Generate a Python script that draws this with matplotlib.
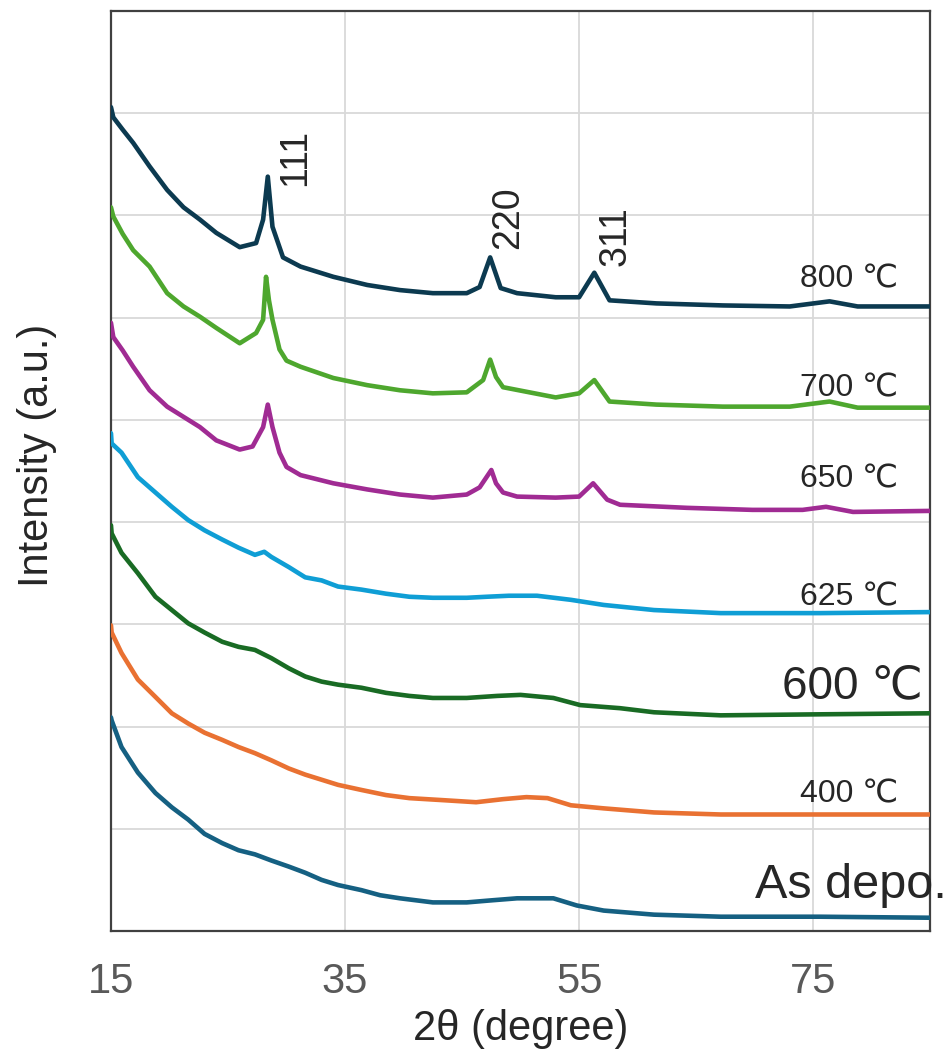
import matplotlib
matplotlib.use("Agg")
import matplotlib.pyplot as plt

plt.rcParams["font.family"] = ["Liberation Sans", "DejaVu Sans"]

# 2theta (deg) / intensity (a.u., stacked)
x_asdep = [15.0, 15.06, 15.9, 17.3, 18.8, 20.2, 21.6, 23.0, 24.5, 25.9, 27.3, 28.7, 30.2,
           31.6, 33.0, 34.4, 36.4, 38.0, 39.7, 42.5, 45.4, 47.5, 49.7, 52.8, 54.8, 57.1,
           61.4, 67.1, 75.6, 85.0]
y_asdep = [2.09, 2.06, 1.80, 1.55, 1.35, 1.21, 1.09, 0.95, 0.86, 0.79, 0.75, 0.69, 0.63,
           0.57, 0.50, 0.45, 0.40, 0.35, 0.32, 0.28, 0.28, 0.30, 0.32, 0.32, 0.25, 0.20,
           0.16, 0.14, 0.14, 0.13]

x_400 = [15.0, 15.06, 15.9, 17.3, 18.8, 20.2, 21.6, 23.0, 24.5, 25.9, 27.3, 28.7, 30.2,
         31.6, 33.0, 34.4, 36.4, 38.5, 40.5, 43.4, 46.2, 48.5, 50.5, 52.3, 54.3, 57.1,
         61.4, 67.1, 75.6, 85.0]
y_400 = [2.99, 2.92, 2.72, 2.46, 2.29, 2.13, 2.03, 1.94, 1.87, 1.80, 1.74, 1.67, 1.59,
         1.53, 1.48, 1.43, 1.38, 1.33, 1.30, 1.28, 1.26, 1.29, 1.31, 1.30, 1.23, 1.20,
         1.16, 1.14, 1.14, 1.14]

x_600 = [15.0, 15.06, 15.9, 17.3, 18.8, 20.2, 21.6, 23.0, 24.5, 25.9, 27.3, 28.7, 30.2,
         31.6, 33.0, 34.4, 36.4, 38.5, 40.5, 42.5, 45.4, 48.0, 50.0, 52.8, 55.1, 58.5,
         61.4, 67.1, 75.6, 85.0]
y_600 = [3.97, 3.89, 3.70, 3.50, 3.27, 3.14, 3.01, 2.92, 2.83, 2.78, 2.75, 2.67, 2.57,
         2.49, 2.44, 2.41, 2.38, 2.33, 2.30, 2.28, 2.28, 2.30, 2.31, 2.28, 2.21, 2.18,
         2.14, 2.11, 2.12, 2.13]

x_625 = [15.0, 15.06, 15.9, 17.3, 18.8, 20.2, 21.6, 23.0, 24.5, 25.9, 27.3, 28.1, 28.7,
         30.2, 31.6, 33.0, 34.4, 36.4, 38.5, 40.5, 42.5, 45.4, 47.1, 49.0, 51.4, 54.3,
         57.1, 61.4, 67.1, 75.6, 85.0]
y_625 = [4.87, 4.77, 4.68, 4.44, 4.29, 4.15, 4.02, 3.92, 3.83, 3.75, 3.68, 3.71, 3.66,
         3.56, 3.46, 3.43, 3.37, 3.34, 3.30, 3.27, 3.26, 3.26, 3.27, 3.28, 3.28, 3.24,
         3.19, 3.14, 3.11, 3.11, 3.12]

x_650 = [15.0, 15.2, 16.0, 16.9, 18.3, 19.8, 21.2, 22.6, 24.0, 26.0, 27.1, 28.0, 28.4,
         28.8, 29.4, 30.0, 31.2, 34.0, 36.9, 39.7, 42.5, 45.4, 46.5, 47.5, 47.9, 48.5,
         49.7, 53.0, 55.0, 56.2, 57.4, 58.5, 64.2, 69.8, 74.1, 76.1, 78.4, 85.0]
y_650 = [5.95, 5.81, 5.68, 5.52, 5.29, 5.13, 5.03, 4.93, 4.80, 4.71, 4.74, 4.93, 5.15,
         4.93, 4.68, 4.54, 4.46, 4.38, 4.32, 4.27, 4.24, 4.27, 4.34, 4.51, 4.38, 4.29,
         4.25, 4.24, 4.25, 4.38, 4.22, 4.17, 4.14, 4.12, 4.12, 4.15, 4.10, 4.11]

x_700 = [15.0, 15.2, 16.0, 16.9, 18.3, 19.8, 21.2, 22.6, 24.0, 26.0, 27.4, 28.0, 28.25,
         28.5, 28.8, 29.4, 30.0, 31.2, 34.0, 36.9, 39.7, 42.5, 45.4, 46.8, 47.4, 47.9,
         48.5, 53.0, 55.0, 56.3, 57.6, 61.6, 67.3, 73.0, 76.4, 78.8, 85.0]
y_700 = [7.08, 6.99, 6.82, 6.66, 6.50, 6.24, 6.11, 6.01, 5.90, 5.75, 5.85, 5.98, 6.40,
         6.17, 5.98, 5.69, 5.58, 5.52, 5.41, 5.34, 5.29, 5.26, 5.27, 5.39, 5.59, 5.42,
         5.32, 5.22, 5.26, 5.39, 5.18, 5.15, 5.13, 5.13, 5.18, 5.12, 5.12]

x_800 = [15.0, 15.2, 16.0, 16.9, 18.3, 19.8, 21.2, 22.6, 24.0, 26.0, 27.4, 28.0, 28.4,
         28.8, 29.7, 31.2, 34.0, 36.9, 39.7, 42.5, 45.4, 46.5, 47.4, 48.3, 49.7, 53.0,
         55.0, 56.3, 57.6, 61.6, 67.3, 73.0, 76.4, 78.8, 85.0]
y_800 = [8.06, 7.96, 7.84, 7.71, 7.48, 7.25, 7.08, 6.96, 6.83, 6.69, 6.73, 6.96, 7.38,
         6.89, 6.59, 6.50, 6.40, 6.32, 6.27, 6.24, 6.24, 6.30, 6.59, 6.29, 6.24, 6.20,
         6.20, 6.44, 6.17, 6.14, 6.12, 6.11, 6.16, 6.11, 6.11]

series = [
    (x_asdep, y_asdep, "#156082"),
    (x_400, y_400, "#E97132"),
    (x_600, y_600, "#196B24"),
    (x_625, y_625, "#0F9ED5"),
    (x_650, y_650, "#A02B93"),
    (x_700, y_700, "#4EA72E"),
    (x_800, y_800, "#0C3A50"),
]

# curve labels: text, x, y, fontsize
curve_labels = [
    ("800 ℃", 82.3, 6.30, 23),
    ("700 ℃", 82.3, 5.23, 23),
    ("650 ℃", 82.3, 4.34, 23),
    ("625 ℃", 82.3, 3.19, 23),
    ("600 ℃", 84.4, 2.28, 33),
    ("400 ℃", 82.3, 1.26, 23),
    ("As depo.", 86.4, 0.32, 35),
]

peak_labels = [("111", 30.7, 7.57), ("220", 48.9, 6.98), ("311", 58.1, 6.80)]

fig = plt.figure(figsize=(9.46, 10.52), dpi=100)
ax = fig.add_axes([0.1173, 0.115, 0.866, 0.8745])

for xs, ys, c in series:
    ax.plot(xs, ys, color=c, lw=3.3, solid_joinstyle="round",
            solid_capstyle="round", zorder=3)

for txt, x, y, fs in curve_labels:
    ax.text(x, y, txt, ha="right", va="baseline", fontsize=fs, color="#262626",
            clip_on=False, zorder=4)

for txt, x, y in peak_labels:
    ax.text(x, y, txt, ha="center", va="center", rotation=90, fontsize=27,
            color="#262626", zorder=4)

ax.set_xlim(15, 85)
ax.set_ylim(0, 9)
ax.set_xticks([15, 35, 55, 75])
ax.set_yticks(range(0, 10))
ax.set_yticklabels([])
ax.tick_params(axis="both", length=0)
ax.tick_params(axis="x", labelsize=30, labelcolor="#595959", pad=22)
ax.grid(True, color="#D9D9D9", lw=1.3, zorder=0)
ax.set_axisbelow(True)
for sp in ax.spines.values():
    sp.set_color("#404040")
    sp.set_linewidth(1.6)

ax.set_xlabel("2θ (degree)", fontsize=30, color="#262626", labelpad=5)
ax.set_ylabel("Intensity (a.u.)", fontsize=30, color="#262626")
ax.yaxis.set_label_coords(-0.066, 0.517)

fig.savefig("out.png", dpi=100)
